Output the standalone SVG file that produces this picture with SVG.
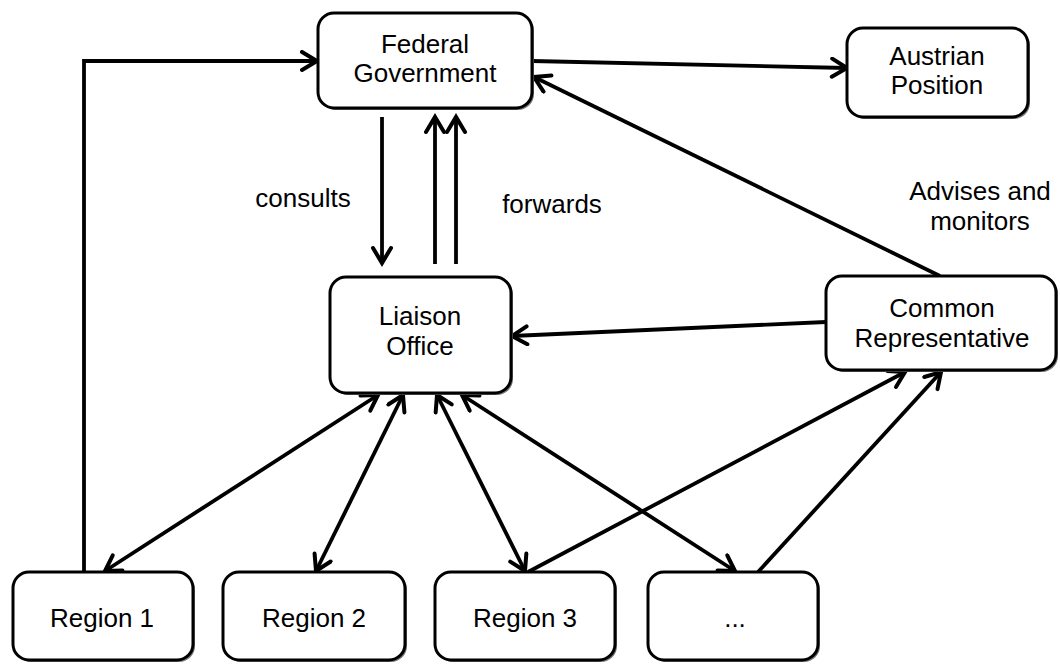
<svg xmlns="http://www.w3.org/2000/svg" width="1060" height="664" viewBox="0 0 1060 664">
  <defs>
    <marker id="arrow" markerUnits="userSpaceOnUse" markerWidth="26" markerHeight="26" refX="18" refY="11" orient="auto-start-reverse">
      <path d="M3,2 L18,11 L3,20" fill="none" stroke="#000" stroke-width="4" stroke-linejoin="miter" stroke-linecap="round"/>
    </marker>
  </defs>
  <style>
    .box { fill: #fff; stroke: #000; stroke-width: 3; }
    .shadow { fill: #777; }
    .label { font-family: "Liberation Sans", Arial, sans-serif; font-size: 26px; fill: #000; text-anchor: middle; }
    .edge { fill: none; stroke: #000; stroke-width: 3.8; }
    .one { marker-end: url(#arrow); }
    .two { marker-start: url(#arrow); marker-end: url(#arrow); }
  </style>
  <rect width="1060" height="664" fill="#fff"/>

  <!-- connectors -->
  <g id="connectors">
    <path class="edge one" d="M84,572 V61 H317"/>
    <path class="edge one" d="M532,61 L847,68"/>
    <path class="edge one" d="M382,117 V263"/>
    <path class="edge one" d="M435,264 V117"/>
    <path class="edge one" d="M456,264 V117"/>
    <path class="edge one" d="M940,276 L534,77"/>
    <path class="edge one" d="M826,322 L512,336"/>
    <path class="edge two" d="M378,395 L105,571"/>
    <path class="edge two" d="M403,395 L316,571"/>
    <path class="edge two" d="M437,395 L525,571"/>
    <path class="edge two" d="M462,395 L735,571"/>
    <path class="edge one" d="M528,572 L905,372"/>
    <path class="edge one" d="M758,572 L941,372"/>
  </g>

  <!-- edge labels -->
  <g id="edge-labels">
    <text class="label" x="303" y="207">consults</text>
    <text class="label" x="552" y="213">forwards</text>
    <text class="label" x="980" y="200">Advises and</text>
    <text class="label" x="980" y="230">monitors</text>
  </g>

  <!-- nodes -->
  <g id="federal-government">
    <rect class="shadow" x="320" y="15" width="214" height="95" rx="16"/>
    <rect class="box" x="318" y="13" width="214" height="95" rx="16"/>
    <text class="label" x="425" y="53">Federal</text>
    <text class="label" x="425" y="82">Government</text>
  </g>

  <g id="austrian-position">
    <rect class="shadow" x="849" y="30" width="181" height="89" rx="16"/>
    <rect class="box" x="847" y="28" width="181" height="89" rx="16"/>
    <text class="label" x="937" y="65">Austrian</text>
    <text class="label" x="937" y="94">Position</text>
  </g>

  <g id="liaison-office">
    <rect class="shadow" x="332" y="279" width="181" height="116" rx="16"/>
    <rect class="box" x="330" y="277" width="181" height="116" rx="16"/>
    <text class="label" x="420" y="325">Liaison</text>
    <text class="label" x="420" y="355">Office</text>
  </g>

  <g id="common-representative">
    <rect class="shadow" x="828" y="278" width="230" height="94" rx="16"/>
    <rect class="box" x="826" y="276" width="230" height="94" rx="16"/>
    <text class="label" x="942" y="317">Common</text>
    <text class="label" x="942" y="347">Representative</text>
  </g>

  <g id="region-1">
    <rect class="shadow" x="15" y="574" width="180" height="88" rx="16"/>
    <rect class="box" x="13" y="572" width="180" height="88" rx="16"/>
    <text class="label" x="102" y="627">Region 1</text>
  </g>

  <g id="region-2">
    <rect class="shadow" x="225" y="574" width="182" height="88" rx="16"/>
    <rect class="box" x="223" y="572" width="182" height="88" rx="16"/>
    <text class="label" x="314" y="627">Region 2</text>
  </g>

  <g id="region-3">
    <rect class="shadow" x="437" y="574" width="180" height="88" rx="16"/>
    <rect class="box" x="435" y="572" width="180" height="88" rx="16"/>
    <text class="label" x="525" y="627">Region 3</text>
  </g>

  <g id="region-more">
    <rect class="shadow" x="650" y="574" width="170" height="88" rx="16"/>
    <rect class="box" x="648" y="572" width="170" height="88" rx="16"/>
    <text class="label" x="735" y="627">...</text>
  </g>
</svg>
